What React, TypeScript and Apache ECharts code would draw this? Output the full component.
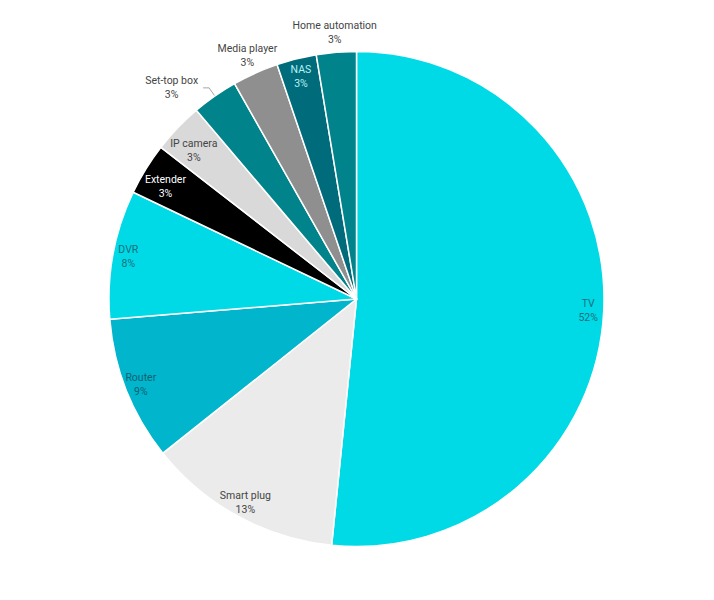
import React, { useEffect, useRef } from "react";
import * as echarts from "echarts";

const categories = [
  "TV",
  "Smart plug",
  "Router",
  "DVR",
  "Extender",
  "IP camera",
  "Set-top box",
  "Media player",
  "NAS",
  "Home automation",
];
const shares = [51.6, 12.7, 9.4, 8.4, 3.4, 3.3, 3.0, 3.0, 2.6, 2.6];

const sliceColors = [
  "#00d9e6",
  "#ebebeb",
  "#00b5cc",
  "#00d9e6",
  "#000000",
  "#d9d9d9",
  "#00838a",
  "#8f8f8f",
  "#006b7a",
  "#00838a",
];
const labelColors = [
  "#16707c",
  "#444444",
  "#0e6272",
  "#16707c",
  "#ffffff",
  "#444444",
  "#444444",
  "#444444",
  "#b5f1f5",
  "#444444",
];

const nearEdgeLabels = ["TV", "Smart plug", "Router", "DVR"];
const nasLabels = ["NAS"];
const deeperLabels = ["Extender", "IP camera"];
const outsideLabels = ["Media player", "Home automation"];
const leaderLabels = ["Set-top box"];

const CX = 356.5;
const CY = 299;
const R = 247.5;
const FONT = "Roboto, 'Noto Sans', sans-serif";
const FS = 10.5;
const LH = 14;

const pct = (p: any) => `${Math.round(p.percent)}%`;

function ringSeries(
  id: string,
  inner: number,
  outer: number,
  show: string[],
  nudge?: { dx: number; dy: number }
) {
  return {
    type: "pie",
    id,
    center: [CX, CY],
    radius: [inner, outer],
    startAngle: 90,
    clockwise: true,
    silent: true,
    avoidLabelOverlap: false,
    z: 3,
    itemStyle: { color: "rgba(0,0,0,0)", borderWidth: 0 },
    labelLine: { show: false },
    labelLayout: nudge ? { dx: nudge.dx, dy: nudge.dy } : undefined,
    emphasis: { disabled: true },
    data: categories.map((name, i) => ({
      name,
      value: shares[i],
      label: {
        show: show.includes(name),
        position: "inside",
        color: labelColors[i],
        fontFamily: FONT,
        fontSize: FS,
        lineHeight: LH,
        formatter: (p: any) => `${p.name}\n${pct(p)}`,
      },
    })),
  };
}

export default function App() {
  const ref = useRef<HTMLDivElement>(null);
  useEffect(() => {
    if (!ref.current) return;
    const chart = echarts.init(ref.current, null, { renderer: "svg" });
    chart.setOption({
      animation: false,
      backgroundColor: "#ffffff",
      series: [
        {
          type: "pie",
          id: "main",
          center: [CX, CY],
          radius: [0, R],
          startAngle: 90,
          clockwise: true,
          avoidLabelOverlap: false,
          silent: true,
          z: 2,
          itemStyle: { borderColor: "#ffffff", borderWidth: 1.5 },
          emphasis: { disabled: true },
          data: categories.map((name, i) => {
            const lead = leaderLabels.includes(name);
            return {
              name,
              value: shares[i],
              itemStyle: { color: sliceColors[i] },
              label: {
                show: lead,
                position: "outside",
                distanceToLabelLine: 5,
                color: labelColors[i],
                fontFamily: FONT,
                fontSize: FS,
                lineHeight: LH,
                formatter: (p: any) => `{t|${p.name}}\n{t|${pct(p)}}`,
                rich: {
                  t: {
                    align: "center",
                    color: labelColors[i],
                    fontFamily: FONT,
                    fontSize: FS,
                    lineHeight: LH,
                  },
                },
              },
              labelLine: {
                show: lead,
                length: 10,
                length2: 6,
                smooth: false,
                lineStyle: { color: "#a6a6a6", width: 1 },
              },
            };
          }),
        },
        ringSeries("near", 210.5, R, nearEdgeLabels),
        ringSeries("nas", 204.5, R, nasLabels),
        ringSeries("deep", 188.5, R, deeperLabels, { dx: -3, dy: 4 }),
        ringSeries("outer", 254, 274, outsideLabels),
      ],
    });
    return () => chart.dispose();
  }, []);
  return (
    <div
      ref={ref}
      style={{ position: "fixed", left: 0, top: 0, width: 714, height: 600 }}
    />
  );
}
